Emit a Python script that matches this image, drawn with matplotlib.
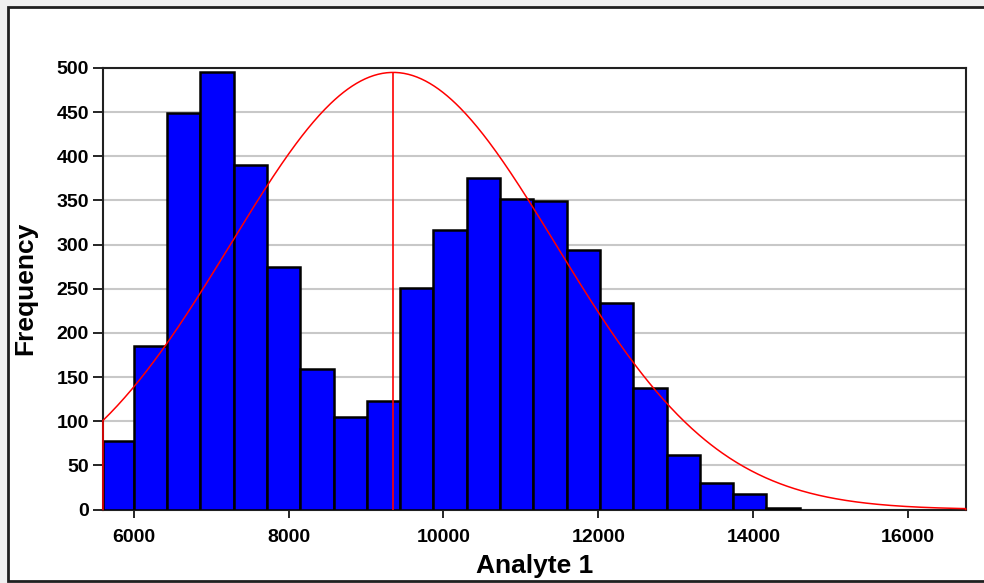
import matplotlib
matplotlib.use('Agg')
import matplotlib.pyplot as plt
import numpy as np
from matplotlib.patches import Rectangle

plt.rcParams['font.family'] = ['Liberation Sans', 'DejaVu Sans']

# histogram bins (Analyte 1) and counts
bin_edges = [5604, 6000, 6430, 6860, 7290, 7720, 8150, 8580, 9010, 9440, 9870,
             10300, 10730, 11160, 11590, 12020, 12450, 12880, 13310, 13740, 14170, 14600]
counts = [78, 185, 449, 495, 390, 275, 159, 105, 123, 251, 317,
          375, 352, 349, 294, 234, 138, 62, 30, 17, 2]

# fitted normal curve parameters
mean = 9350
sigma = 2100
peak = 495
x_min, x_max = 5604, 16742

fig = plt.figure(figsize=(9.84, 5.83), dpi=100)
fig.patch.set_facecolor('#f0f0f0')
# white panel with a dark frame (right side runs off the picture)
fig.patches.append(Rectangle((8 / 984, 2 / 583), 1.0, (583 - 9) / 583,
                             transform=fig.transFigure, facecolor='white',
                             edgecolor='#202020', linewidth=2.0, zorder=-1))

ax = fig.add_axes([103 / 984, (583 - 509.5) / 583, (965.7 - 103) / 984, (509.5 - 68) / 583])

edges = np.array(bin_edges)
ax.bar(edges[:-1], counts, width=np.diff(edges), align='edge',
       color='#0000ff', edgecolor='black', linewidth=1.8, zorder=3)

xs = np.linspace(x_min, x_max, 600)
ys = peak * np.exp(-0.5 * ((xs - mean) / sigma) ** 2)
xs = np.concatenate([[x_min], xs, [x_max]])
ys = np.concatenate([[0], ys, [0]])
ax.plot(xs, ys, color='red', linewidth=1.1, zorder=4, clip_on=False)
ax.vlines(mean, 0, peak, color='red', linewidth=1.2, zorder=4)

ax.set_xlim(x_min, x_max)
ax.set_ylim(0, 500)
ax.set_yticks(np.arange(0, 501, 50))
ax.set_xticks(np.arange(6000, 16001, 2000))
ax.yaxis.grid(True, color='#c8c8c8', linewidth=1.5, zorder=0)
ax.set_axisbelow(True)

for s in ax.spines.values():
    s.set_linewidth(1.5)
    s.set_color('#202020')
ax.tick_params(axis='y', length=7, width=1.2, pad=3, labelsize=14)
ax.tick_params(axis='x', length=6, width=1.2, pad=8, labelsize=14)
for lab in ax.get_xticklabels() + ax.get_yticklabels():
    lab.set_fontweight('bold')

ax.set_xlabel('Analyte 1', fontsize=19, fontweight='bold', labelpad=6)
ax.set_ylabel('Frequency', fontsize=19, fontweight='bold', labelpad=14)

fig.savefig('out.png', dpi=100, facecolor=fig.get_facecolor())
